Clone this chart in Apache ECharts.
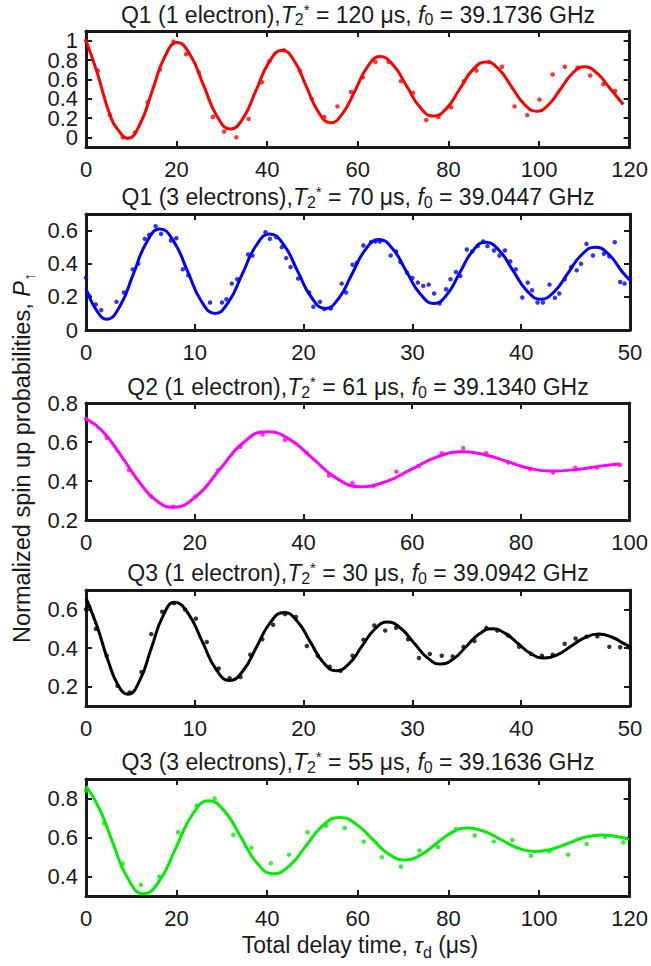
<!DOCTYPE html>
<html><head><meta charset="utf-8">
<script src="https://cdn.jsdelivr.net/npm/echarts@6/dist/echarts.min.js"></script>
<style>html,body{margin:0;padding:0;background:#fff}#c{width:651px;height:966px}</style>
</head><body><div id="c"></div>
<script>
// ---------- data ----------
const p1Points = [[0,1.0],[2.6,0.69],[5.3,0.23],[8.1,0.0],[10.8,0.05],[13.6,0.36],[16.3,0.70],[19.3,0.99],[22.1,0.86],[24.9,0.67],[28.0,0.21],[30.5,0.06],[33.2,0.0],[35.9,0.19],[38.8,0.57],[40.5,0.79],[43.7,0.90],[47.2,0.69],[49.8,0.40],[52.6,0.21],[55.5,0.32],[58.5,0.47],[61.1,0.62],[63.9,0.78],[66.8,0.78],[69.5,0.58],[72.2,0.46],[75.1,0.18],[77.8,0.21],[80.6,0.31],[83.4,0.58],[86.2,0.69],[89.0,0.78],[91.8,0.73],[94.6,0.32],[97.4,0.23],[100.1,0.39],[103.0,0.65],[105.7,0.73],[108.5,0.72],[111.3,0.64],[114.2,0.55],[116.8,0.48]];
const p1Fit = [[0,1.0],[2.4,0.68],[5.3,0.23],[7.2,0.07],[9.2,-0.01],[11.9,0.135],[14.65,0.485],[17.4,0.835],[20.1,0.98],[23.05,0.849],[26.0,0.533],[28.95,0.216],[31.9,0.085],[34.75,0.204],[37.6,0.493],[40.45,0.781],[43.3,0.90],[45.98,0.79],[48.65,0.525],[51.33,0.26],[54.0,0.15],[56.7,0.25],[59.45,0.49],[62.2,0.735],[64.9,0.835],[67.85,0.745],[70.8,0.528],[73.75,0.31],[76.7,0.22],[79.6,0.30],[82.5,0.50],[85.4,0.70],[88.3,0.78],[91.1,0.705],[93.9,0.525],[96.7,0.345],[99.5,0.27],[102.1,0.337],[104.75,0.5],[107.4,0.663],[110.0,0.73],[112.75,0.667],[115.5,0.515],[118.6,0.34]];

const p2Points = [[0,0.316],[0.3,0.206],[0.9,0.154],[1.4,0.12],[2.8,0.17],[3.5,0.226],[4.3,0.366],[4.8,0.40],[5.4,0.55],[5.8,0.574],[6.4,0.626],[6.9,0.58],[7.8,0.54],[8.3,0.554],[8.9,0.366],[9.4,0.33],[11.4,0.166],[12.5,0.166],[12.9,0.186],[13.4,0.28],[13.9,0.306],[14.9,0.456],[15.3,0.45],[16.5,0.59],[16.9,0.55],[17.5,0.56],[18.0,0.50],[18.4,0.434],[18.8,0.38],[19.5,0.31],[20.5,0.226],[20.9,0.14],[21.5,0.17],[21.9,0.126],[22.5,0.13],[23.5,0.28],[23.9,0.226],[24.5,0.394],[24.9,0.406],[25.5,0.51],[26.2,0.53],[26.6,0.534],[27.0,0.534],[28.0,0.45],[28.5,0.474],[28.9,0.41],[29.5,0.346],[30.0,0.314],[30.5,0.286],[31.0,0.266],[31.5,0.274],[32.0,0.22],[32.5,0.16],[33.1,0.246],[33.5,0.306],[34.0,0.35],[34.4,0.326],[35.0,0.486],[35.5,0.474],[36.0,0.506],[36.5,0.534],[36.9,0.506],[37.5,0.48],[38.0,0.45],[38.5,0.48],[39.0,0.414],[39.5,0.366],[40.1,0.196],[40.6,0.286],[41.0,0.24],[41.5,0.166],[42.0,0.166],[42.6,0.274],[43.1,0.194],[43.5,0.22],[44.0,0.306],[44.6,0.38],[45.1,0.36],[45.5,0.40],[46.0,0.52],[46.6,0.45],[47.6,0.46],[48.1,0.444],[48.6,0.53],[49.1,0.29],[49.5,0.28],[50.0,0.314]];
const p2Fit = [[0,0.25],[1.0,0.115],[1.9,0.065],[3.125,0.145],[4.35,0.3375],[5.575,0.53],[6.8,0.61],[8.06,0.535],[9.33,0.355],[10.59,0.175],[11.85,0.10],[13.11,0.17],[14.38,0.34],[15.64,0.51],[16.9,0.58],[18.18,0.514],[19.45,0.355],[20.73,0.196],[22.0,0.13],[23.23,0.191],[24.45,0.338],[25.68,0.485],[26.9,0.546],[28.18,0.49],[29.45,0.353],[30.73,0.217],[32.0,0.16],[33.18,0.214],[34.35,0.345],[35.53,0.476],[36.7,0.53],[37.98,0.48],[39.25,0.358],[40.53,0.236],[41.8,0.186],[43.05,0.232],[44.3,0.343],[45.55,0.454],[46.8,0.50],[48.05,0.456],[49.3,0.35],[50.0,0.30]];

const p3Points = [[0,0.718],[3.8,0.622],[7.9,0.456],[12.0,0.32],[16.0,0.268],[20.1,0.32],[24.3,0.456],[28.4,0.576],[32.5,0.639],[36.6,0.61],[40.6,0.545],[44.7,0.428],[49.0,0.39],[52.9,0.376],[57.1,0.448],[61.2,0.477],[65.4,0.542],[69.4,0.568],[73.6,0.542],[77.7,0.494],[81.7,0.46],[85.9,0.443],[90.0,0.468],[94.0,0.468],[98.2,0.482]];
const p3Fit = [[0,0.72],[3,0.656],[6.5,0.528],[10,0.387],[13,0.298],[16.0,0.265],[20.3,0.322],[24.6,0.459],[28.9,0.596],[33.2,0.653],[37.53,0.612],[41.85,0.512],[46.18,0.412],[50.5,0.371],[55.2,0.397],[59.9,0.4605],[64.6,0.524],[69.3,0.55],[73.38,0.535],[77.45,0.50],[81.53,0.465],[85.6,0.451],[89.95,0.458],[94.3,0.475],[98.2,0.487]];

const p4Points = [[0,0.60],[0.3,0.614],[0.9,0.499],[1.9,0.36],[2.9,0.205],[4.0,0.17],[5.1,0.276],[6.0,0.472],[7.0,0.588],[8.1,0.632],[9.1,0.60],[10.1,0.552],[11.1,0.431],[12.2,0.294],[13.2,0.244],[14.2,0.25],[15.1,0.365],[16.2,0.445],[17.2,0.52],[18.3,0.575],[19.3,0.561],[20.3,0.41],[21.3,0.36],[22.4,0.303],[23.4,0.282],[24.5,0.36],[25.5,0.442],[26.5,0.516],[27.5,0.49],[28.5,0.504],[29.6,0.445],[30.6,0.348],[31.6,0.369],[32.7,0.36],[33.7,0.356],[34.7,0.406],[35.7,0.436],[36.8,0.504],[37.8,0.49],[38.8,0.465],[39.8,0.406],[40.9,0.37],[41.9,0.36],[42.9,0.365],[44.0,0.422],[45.0,0.449],[46.0,0.458],[47.0,0.46],[48.1,0.406],[49.1,0.404],[50.0,0.40]];
const p4Fit = [[0,0.658],[1.0,0.515],[2.0,0.339],[3.0,0.202],[3.85,0.161],[4.93,0.231],[6.0,0.3985],[7.08,0.566],[8.15,0.636],[9.41,0.577],[10.68,0.434],[11.94,0.291],[13.2,0.232],[14.45,0.2835],[15.7,0.408],[16.95,0.5325],[18.2,0.584],[19.4,0.54],[20.6,0.433],[21.8,0.326],[23.0,0.282],[24.18,0.319],[25.35,0.408],[26.53,0.497],[27.7,0.534],[28.93,0.502],[30.15,0.4255],[31.38,0.349],[32.6,0.317],[33.78,0.344],[34.95,0.408],[36.13,0.472],[37.3,0.499],[38.5,0.477],[39.7,0.4235],[40.9,0.37],[42.1,0.348],[43.35,0.366],[44.6,0.41],[45.85,0.454],[47.1,0.472],[48.3,0.457],[49.5,0.421],[50.0,0.405]];

const p5Points = [[0,0.84],[4.0,0.673],[8.1,0.465],[12.1,0.357],[16.2,0.40],[20.3,0.627],[24.4,0.763],[28.4,0.80],[32.5,0.613],[36.5,0.547],[40.8,0.468],[44.8,0.512],[48.9,0.627],[53.0,0.66],[57.1,0.649],[61.3,0.579],[65.3,0.499],[69.5,0.451],[73.6,0.533],[77.7,0.55],[81.7,0.644],[85.8,0.61],[90.0,0.58],[94.1,0.587],[98.2,0.507],[102.3,0.529],[106.4,0.512],[110.5,0.567],[114.6,0.604],[118.6,0.575]];
const p5Fit = [[0,0.863],[3,0.746],[6,0.568],[9,0.40],[12.7,0.311],[16.3,0.381],[19.9,0.5495],[23.5,0.718],[27.1,0.788],[30.65,0.733],[34.2,0.601],[37.75,0.469],[41.3,0.414],[44.95,0.456],[48.6,0.5585],[52.25,0.661],[55.9,0.703],[59.5,0.671],[63.1,0.594],[66.7,0.517],[70.3,0.485],[73.78,0.509],[77.25,0.567],[80.73,0.625],[84.2,0.649],[87.93,0.631],[91.65,0.5885],[95.38,0.546],[99.1,0.528],[102.78,0.54],[106.45,0.5705],[110.13,0.601],[113.8,0.613],[116.8,0.606],[119.8,0.59]];

const panelTitles = [
  ['Q1 (1 electron),', '120', '39.1736'],
  ['Q1 (3 electrons),', '70', '39.0447'],
  ['Q2 (1 electron),', '61', '39.1340'],
  ['Q3 (1 electron),', '30', '39.0942'],
  ['Q3 (3 electrons),', '55', '39.1636']
];
const xMaxes = [120, 50, 100, 50, 120];
const xIntervals = [20, 10, 20, 10, 20];
const yMins = [-0.1, 0, 0.2, 0.1, 0.3];
const yMaxes = [1.1, 0.7, 0.8, 0.7, 0.9];
const yTickValues = [[0,0.2,0.4,0.6,0.8,1],[0,0.2,0.4,0.6],[0.2,0.4,0.6,0.8],[0.2,0.4,0.6],[0.4,0.6,0.8]];
const yLabelText = 'Normalized spin up probabilities, ';
const xLabelText = 'Total delay time, ';

// ---------- layout & style ----------
const pointsList = [p1Points, p2Points, p3Points, p4Points, p5Points];
const fitList = [p1Fit, p2Fit, p3Fit, p4Fit, p5Fit];
const colors = ['#ff0000', '#0000ff', '#ff00ff', '#000000', '#00ee00'];
const gridTops = [31, 214, 403, 590, 779];
const gridHeights = [116, 116, 117, 116, 117];
const titleY = [14.5, 197, 387, 573, 762];
const GL = 86, GW = 544;
const FONT = '"Liberation Sans", Arial, Helvetica, sans-serif';
const INK = '#1a1a1a';
const FS = 22;      // tick labels
const TFS = 23;     // titles and axis names

const grids = [], xAxes = [], yAxes = [], series = [], graphics = [];
const lineAxis = {show: true, onZero: false, lineStyle: {color: INK, width: 3}};
const labelBase = {show: true, color: INK, fontSize: FS, fontFamily: FONT, margin: 8,
  showMinLabel: true, showMaxLabel: true, hideOverlap: false,
  formatter: v => String(+(+v).toFixed(2))};
// tightly spaced tick labels are split over two coincident axes (every other label on each)
const splitLabels = vals => vals.length > 5
  ? [vals.filter((_, k) => k % 2 === 0), vals.filter((_, k) => k % 2 === 1)]
  : [vals, null];
const extraY = [];
for (let i = 0; i < 5; i++) {
  grids.push({left: GL, top: gridTops[i], width: GW, height: gridHeights[i], containLabel: false});
  const xBase = {type: 'value', gridIndex: i, min: 0, max: xMaxes[i], interval: xIntervals[i],
    axisLine: lineAxis, splitLine: {show: false},
    axisTick: {show: true, inside: true, length: 6, lineStyle: {color: INK, width: 2}}};
  xAxes.push(Object.assign({}, xBase, {position: 'bottom',
    axisLabel: {show: true, color: INK, fontSize: FS, fontFamily: FONT, margin: 11,
      showMinLabel: true, showMaxLabel: true}}));
  xAxes.push(Object.assign({}, xBase, {position: 'top', axisLabel: {show: false}}));
  const yBase = {type: 'value', gridIndex: i, min: yMins[i], max: yMaxes[i],
    axisLine: lineAxis, splitLine: {show: false},
    axisTick: {show: true, inside: true, length: 6, customValues: yTickValues[i], lineStyle: {color: INK, width: 2}}};
  const [labA, labB] = splitLabels(yTickValues[i]);
  yAxes.push(Object.assign({}, yBase, {position: 'left',
    axisLabel: Object.assign({}, labelBase, {customValues: labA})}));
  yAxes.push(Object.assign({}, yBase, {position: 'right', axisLabel: {show: false}}));
  if (labB) {
    extraY.push({type: 'value', gridIndex: i, min: yMins[i], max: yMaxes[i], position: 'left', offset: 0,
      axisLine: {show: false}, axisTick: {show: false}, splitLine: {show: false},
      axisLabel: Object.assign({}, labelBase, {customValues: labB})});
  }
  series.push({type: 'line', xAxisIndex: 2 * i, yAxisIndex: 2 * i, data: fitList[i], smooth: 0.5,
    showSymbol: false, silent: true, lineStyle: {color: colors[i], width: 3}, z: 2});
  series.push({type: 'scatter', xAxisIndex: 2 * i, yAxisIndex: 2 * i, data: pointsList[i],
    symbol: 'circle', symbolSize: 4.5, itemStyle: {color: colors[i]}, silent: true, z: 3});
  const t = panelTitles[i];
  graphics.push({type: 'text', x: GL + GW / 2, y: titleY[i], silent: true,
    style: {text: t[0] + '{i|T}{sub|2}{sup|*} = ' + t[1] + ' μs, {i|f}{sub|0} = ' + t[2] + ' GHz',
      fontSize: TFS, fontFamily: FONT, fill: INK, lineHeight: 26,
      align: 'center', textAlign: 'center', verticalAlign: 'middle', textVerticalAlign: 'middle',
      rich: {
        i: {fontStyle: 'italic', fontSize: TFS, fontFamily: FONT, fill: INK},
        sub: {fontSize: 16, fontFamily: FONT, fill: INK, verticalAlign: 'bottom', lineHeight: 15},
        sup: {fontSize: 15, fontFamily: FONT, fill: INK, verticalAlign: 'top', lineHeight: 15}
      }}});
}
extraY.forEach(a => yAxes.push(a));
graphics.push({type: 'text', x: 22, y: 458, rotation: Math.PI / 2, silent: true,
  style: {text: yLabelText + '{i|P}{sub|↑}', fontSize: 23.5, fontFamily: FONT, fill: INK, lineHeight: 30,
    align: 'center', textAlign: 'center', verticalAlign: 'middle', textVerticalAlign: 'middle',
    rich: {i: {fontStyle: 'italic', fontSize: 23.5, fontFamily: FONT, fill: INK},
      sub: {fontSize: 16, fontFamily: FONT, fill: INK, verticalAlign: 'bottom', lineHeight: 15}}}});
graphics.push({type: 'text', x: GL + GW / 2 + 2, y: 945, silent: true,
  style: {text: xLabelText + '{i|τ}{sub|d} (μs)', fontSize: TFS, fontFamily: FONT, fill: INK, lineHeight: 30,
    align: 'center', textAlign: 'center', verticalAlign: 'middle', textVerticalAlign: 'middle',
    rich: {i: {fontStyle: 'italic', fontSize: TFS, fontFamily: FONT, fill: INK},
      sub: {fontSize: 16, fontFamily: FONT, fill: INK, verticalAlign: 'bottom', lineHeight: 15}}}});

const chart = echarts.init(document.getElementById('c'), null, {renderer: 'svg'});
chart.setOption({
  animation: false,
  backgroundColor: '#ffffff',
  grid: grids, xAxis: xAxes, yAxis: yAxes, series: series, graphic: graphics
});
</script></body></html>
